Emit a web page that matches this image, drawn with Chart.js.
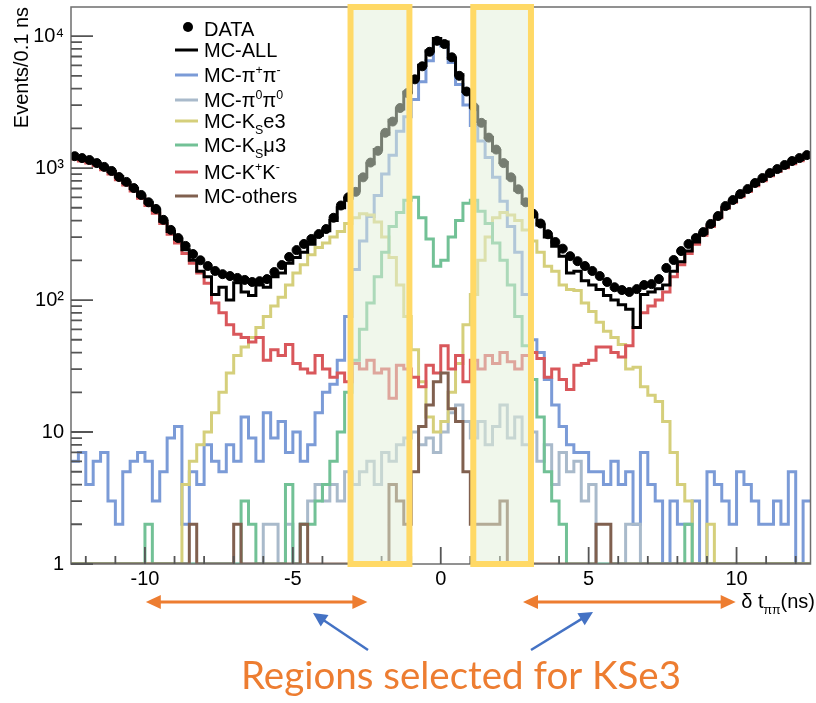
<!DOCTYPE html>
<html>
<head>
<meta charset="utf-8">
<title>delta t pipi</title>
<script src="https://cdn.jsdelivr.net/npm/chart.js@4.4.1/dist/chart.umd.min.js"></script>
<style>
html, body { margin: 0; padding: 0; background: #fff; }
#wrap { width: 816px; height: 703px; position: relative; }
</style>
</head>
<body>
<div id="wrap"><canvas id="dtChart"></canvas></div>
<script>
// binning of the histograms: 100 bins of 0.25 ns from -12.5 to 12.5
const xMin = -12.5;
const xMax = 12.5;
const binWidth = 0.25;

// DATA (dots)
const dataCounts = [
  1230, 1190, 1150, 1090, 1020, 950, 855, 785, 705, 625,
  550, 490, 405, 340, 295, 257, 223, 200, 181, 166,
  157, 152, 147, 142, 137, 139, 144, 163, 184, 212,
  239, 266, 290, 316, 345, 420, 520, 600, 660, 850,
  1100, 1350, 1850, 2250, 2850, 3700, 4700, 5900, 7600, 9200,
  8700, 6900, 5000, 3800, 2900, 2200, 1700, 1380, 1090, 850,
  690, 550, 450, 380, 315, 275, 245, 215, 197, 181,
  166, 152, 137, 125, 119, 115, 121, 130, 132, 144,
  175, 201, 235, 266, 295, 327, 377, 433, 515, 572,
  635, 693, 770, 839, 916, 982, 1054, 1130, 1190, 1253
];

// MC-ALL
const mcAll = [
  1220, 1170, 1150, 1080, 1010, 940, 860, 775, 700, 615,
  545, 480, 395, 330, 290, 240, 200, 165, 150, 110,
  125, 100, 135, 115, 108, 130, 125, 150, 160, 190,
  210, 230, 265, 310, 335, 400, 500, 590, 680, 860,
  1080, 1380, 1800, 2300, 2800, 3750, 4800, 6000, 7700, 9600,
  9000, 6800, 5100, 3800, 2900, 2250, 1700, 1350, 1100, 840,
  680, 540, 440, 370, 300, 255, 215, 160, 165, 140,
  130, 120, 108, 100, 92, 85, 62, 110, 115, 122,
  130, 165, 195, 235, 275, 320, 370, 425, 500, 560,
  620, 680, 750, 820, 890, 955, 1020, 1100, 1160, 1230
];

// MC-pi+pi-
const mcPipPim = [
  6, 7, 4, 6, 7, 3, 2, 5, 6, 7,
  6, 3, 5, 9, 11, 2, 5, 4, 8, 6,
  5, 8, 6, 13, 9, 6, 14, 9, 12, 7,
  10, 6, 8, 14, 20, 23, 35, 75, 170, 280,
  430, 620, 900, 1250, 1900, 2450, 3300, 4500, 6500, 8800,
  8400, 6300, 4300, 3000, 2100, 1600, 1200, 850, 560, 360,
  230, 110, 50, 40, 25, 16, 11, 8, 7, 7,
  5, 5, 4, 6, 4, 5, 2, 7, 4, 3,
  1, 3, 2, 2, 3, 1, 5, 4, 3, 2,
  5, 4, 3, 2, 2, 3, 2, 5, 1, 3
];

// MC-pi0pi0
const mcPi0Pi0 = [
  1, 1, 1, 1, 1, 1, 1, 1, 1, 1,
  1, 1, 1, 1, 1, 1, 1, 1, 1, 1,
  1, 1, 1, 1, 1, 1, 2, 2, 1, 2,
  1, 2, 3, 4, 3, 4, 3, 5, 4, 5,
  6, 4, 7, 6, 8, 9, 10, 8, 9, 7,
  10, 14, 16, 12, 9, 12, 8, 11, 16, 9,
  13, 8, 10, 6, 8, 4, 7, 5, 6, 3,
  4, 1, 1, 1, 1, 2, 2, 1, 1, 1,
  1, 1, 1, 1, 1, 1, 1, 1, 1, 1,
  1, 1, 1, 1, 1, 1, 1, 1, 1, 1
];

// MC-KSe3
const mcKse3 = [
  1, 1, 1, 1, 1, 1, 1, 1, 1, 1,
  1, 1, 1, 1, 1, 4, 6, 8, 10, 14,
  20, 28, 38, 44, 52, 62, 75, 90, 105, 130,
  160, 185, 220, 250, 270, 300, 330, 380, 420, 450,
  440, 390, 300, 210, 130, 75, 42, 24, 13, 10,
  12, 20, 33, 65, 110, 200, 300, 420, 460, 440,
  400, 340, 280, 230, 180, 165, 130, 120, 118, 95,
  82, 68, 58, 52, 46, 30, 31, 22, 19, 17,
  12, 7, 4, 3, 1, 1, 2, 1, 1, 1,
  1, 1, 1, 1, 1, 1, 1, 1, 1, 1
];

// MC-KSmu3
const mcKsmu3 = [
  1, 1, 1, 1, 1, 1, 1, 1, 1, 1,
  2, 1, 1, 1, 1, 1, 1, 1, 1, 1,
  1, 1, 1, 3, 2, 1, 1, 1, 1, 4,
  1, 2, 2, 3, 4, 6, 10, 20, 35, 60,
  95, 150, 230, 360, 460, 570, 600, 420, 290, 180,
  200, 300, 400, 540, 570, 470, 380, 270, 200, 130,
  75, 45, 25, 13, 5, 3, 2, 1, 1, 1,
  1, 1, 1, 1, 1, 1, 1, 1, 1, 1,
  1, 1, 1, 2, 1, 1, 1, 1, 1, 1,
  1, 1, 1, 1, 1, 1, 1, 1, 1, 1
];

// MC-K+K-
const mcKpKm = [
  1170, 1130, 1090, 1040, 970, 900, 815, 745, 670, 590,
  520, 455, 380, 315, 270, 225, 190, 160, 134, 95,
  80, 65, 55, 52, 48, 52, 35, 42, 38, 46,
  33, 30, 28, 38, 30, 26, 28, 24, 33, 30,
  35, 28, 30, 18, 32, 30, 26, 22, 32, 28,
  45, 30, 38, 24, 35, 30, 38, 33, 40, 34,
  30, 38, 40, 36, 26, 30, 25, 21, 32, 33,
  35, 44, 44, 40, 37, 45, 62, 80, 90, 100,
  115, 150, 185, 225, 265, 310, 360, 420, 495, 550,
  605, 665, 735, 800, 875, 940, 1005, 1080, 1135, 1200
];

// MC-others
const mcOthers = [
  1, 1, 1, 1, 1, 1, 1, 1, 1, 1,
  1, 1, 1, 1, 1, 1, 2, 1, 1, 1,
  1, 1, 2, 1, 1, 1, 1, 1, 1, 1,
  1, 2, 1, 1, 1, 1, 1, 1, 1, 1,
  1, 1, 1, 4, 3, 2, 5, 11, 16, 24,
  28, 15, 12, 5, 2, 2, 2, 2, 3, 1,
  1, 1, 1, 1, 1, 1, 1, 1, 1, 1,
  1, 2, 2, 1, 1, 1, 1, 1, 1, 1,
  1, 1, 1, 1, 1, 1, 1, 1, 1, 1,
  1, 1, 1, 1, 1, 1, 1, 1, 1, 1
];

// ticks: every ns on x (labels every 5), decades on y
const xTickValues = [-12, -11, -10, -9, -8, -7, -6, -5, -4, -3, -2, -1, 0,
  1, 2, 3, 4, 5, 6, 7, 8, 9, 10, 11, 12];
const decadeLabels = ['1', '10', '10²', '10³', '10⁴'];
const yMax = 16600;

// selected regions (ns) and arrows under the axis
const boxRanges = [[-3.05, -1.06], [1.1, 3.05]];
const arrowRanges = [[-9.97, -2.48], [2.78, 9.97]];

const FONT = "'Liberation Sans', Arial, sans-serif";

// histogram: one point per left bin edge, stepped
function histPoints(vals) {
  const pts = vals.map((v, i) => ({ x: xMin + i * binWidth, y: v }));
  pts.push({ x: xMin + vals.length * binWidth, y: vals[vals.length - 1] });
  return pts;
}
function centerPoints(vals) {
  return vals.map((v, i) => ({ x: xMin + (i + 0.5) * binWidth, y: v }));
}

function histSet(label, vals, color, order) {
  return {
    label: label,
    data: histPoints(vals),
    borderColor: color,
    backgroundColor: color,
    borderWidth: 3,
    stepped: true,
    pointRadius: 0,
    fill: false,
    order: order
  };
}

// log ticks 1..9 x 10^k
function logTicks() {
  const t = [];
  for (let k = 0; k < decadeLabels.length; k++) {
    for (let m = 1; m <= 9; m++) {
      const v = m * Math.pow(10, k);
      if (v <= yMax) t.push({ value: v, major: m === 1 });
    }
  }
  return t;
}

// text with super (1) / subscript (-1) parts
function richText(ctx, parts, x, y, size, align) {
  let w = 0;
  parts.forEach(p => {
    ctx.font = (p[1] ? size * 0.62 : size) + 'px ' + FONT;
    w += ctx.measureText(p[0]).width;
  });
  let cx = align === 'right' ? x - w : x;
  ctx.textAlign = 'left';
  ctx.textBaseline = 'alphabetic';
  parts.forEach(p => {
    const s = p[1] ? size * 0.62 : size;
    ctx.font = s + 'px ' + FONT;
    const dy = p[1] === 1 ? -size * 0.42 : (p[1] === -1 ? size * 0.3 : 0);
    ctx.fillText(p[0], cx, y + dy);
    cx += ctx.measureText(p[0]).width;
  });
}

function arrowHead(ctx, x, y, ang, len, half) {
  const c = Math.cos(ang), s = Math.sin(ang);
  ctx.beginPath();
  ctx.moveTo(x, y);
  ctx.lineTo(x - len * c + half * s, y - len * s - half * c);
  ctx.lineTo(x - len * c - half * s, y - len * s + half * c);
  ctx.closePath();
  ctx.fill();
}

const legendRows = [
  { ds: 0, y: 29, parts: [['DATA', 0]] },
  { ds: 1, y: 50, parts: [['MC-ALL', 0]] },
  { ds: 2, y: 75, parts: [['MC-π', 0], ['+', 1], ['π', 0], ['-', 1]] },
  { ds: 3, y: 100, parts: [['MC-π', 0], ['0', 1], ['π', 0], ['0', 1]] },
  { ds: 4, y: 121, parts: [['MC-K', 0], ['S', -1], ['e3', 0]] },
  { ds: 5, y: 145, parts: [['MC-K', 0], ['S', -1], ['μ3', 0]] },
  { ds: 6, y: 172, parts: [['MC-K', 0], ['+', 1], ['K', 0], ['-', 1]] },
  { ds: 7, y: 196, parts: [['MC-others', 0]] }
];

// frame, inner ticks and the shaded regions
const axisDeco = {
  id: 'axisDeco',
  afterDatasetsDraw(chart) {
    const { ctx, chartArea: a, scales } = chart;
    ctx.save();
    ctx.strokeStyle = '#6e6e6e';
    ctx.lineWidth = 1.5;
    ctx.strokeRect(a.left, a.top, a.right - a.left, a.bottom - a.top);

    ctx.strokeStyle = '#555';
    ctx.lineWidth = 1.8;
    ctx.beginPath();
    scales.x.ticks.forEach(t => {
      const px = scales.x.getPixelForValue(t.value);
      const len = t.value % 5 === 0 ? 17 : 8;
      ctx.moveTo(px, a.bottom);
      ctx.lineTo(px, a.bottom - len);
    });
    scales.y.ticks.forEach(t => {
      const py = scales.y.getPixelForValue(t.value);
      const len = t.major ? 22 : 11;
      ctx.moveTo(a.left, py);
      ctx.lineTo(a.left + len, py);
    });
    ctx.stroke();

    boxRanges.forEach(r => {
      const x0 = scales.x.getPixelForValue(r[0]);
      const x1 = scales.x.getPixelForValue(r[1]);
      ctx.fillStyle = 'rgba(226, 240, 217, 0.52)';
      ctx.fillRect(x0, a.top, x1 - x0, a.bottom - a.top);
      ctx.strokeStyle = '#ffd966';
      ctx.lineWidth = 6;
      ctx.strokeRect(x0, a.top, x1 - x0, a.bottom - a.top);
    });
    ctx.restore();
  },
  afterDraw(chart) {
    const { ctx, scales } = chart;
    ctx.save();

    // legend
    legendRows.forEach(row => {
      const ds = chart.data.datasets[row.ds];
      ctx.fillStyle = ds.borderColor;
      ctx.strokeStyle = ds.borderColor;
      if (row.ds === 0) {
        ctx.beginPath();
        ctx.arc(188, row.y - 2, 5, 0, Math.PI * 2);
        ctx.fill();
      } else {
        ctx.lineWidth = 3;
        ctx.beginPath();
        ctx.moveTo(175, row.y);
        ctx.lineTo(198, row.y);
        ctx.stroke();
      }
      ctx.fillStyle = '#000';
      richText(ctx, row.parts, 204, row.y + 7, 20, 'left');
    });

    // x axis title
    ctx.fillStyle = '#000';
    richText(ctx, [['δ t', 0], ['ππ', -1], ['(ns)', 0]], 815, 608, 20, 'right');

    // orange arrows for the selected regions
    ctx.strokeStyle = '#ed7d31';
    ctx.fillStyle = '#ed7d31';
    ctx.lineWidth = 3;
    const ay = 602;
    arrowRanges.forEach(r => {
      const x0 = scales.x.getPixelForValue(r[0]);
      const x1 = scales.x.getPixelForValue(r[1]);
      ctx.beginPath();
      ctx.moveTo(x0 + 10, ay);
      ctx.lineTo(x1 - 10, ay);
      ctx.stroke();
      arrowHead(ctx, x0, ay, Math.PI, 15, 7);
      arrowHead(ctx, x1, ay, 0, 15, 7);
    });

    // blue pointers
    ctx.strokeStyle = '#4472c4';
    ctx.fillStyle = '#4472c4';
    ctx.lineWidth = 2.5;
    [[368, 650, 313, 613], [531, 650, 593, 612]].forEach(p => {
      const ang = Math.atan2(p[3] - p[1], p[2] - p[0]);
      ctx.beginPath();
      ctx.moveTo(p[0], p[1]);
      ctx.lineTo(p[2] - 8 * Math.cos(ang), p[3] - 8 * Math.sin(ang));
      ctx.stroke();
      arrowHead(ctx, p[2], p[3], ang, 14, 7);
    });

    // caption
    const caption = 'Regions selected for KSe3';
    ctx.font = "40px Lato, 'Open Sans', sans-serif";
    const size = 40 * 440 / ctx.measureText(caption).width;
    ctx.font = size.toFixed(1) + "px Lato, 'Open Sans', sans-serif";
    ctx.fillStyle = '#ed7d31';
    ctx.textAlign = 'center';
    ctx.textBaseline = 'alphabetic';
    ctx.fillText(caption, 461, 689);
    ctx.restore();
  }
};

Chart.defaults.font.family = FONT;
Chart.defaults.color = '#000';

const dtChart = new Chart(document.getElementById('dtChart'), {
  type: 'line',
  data: {
    datasets: [
      {
        label: 'DATA',
        data: centerPoints(dataCounts),
        borderColor: '#000',
        backgroundColor: '#000',
        showLine: false,
        pointRadius: 4.5,
        pointHoverRadius: 4.5,
        order: 0
      },
      histSet('MC-ALL', mcAll, '#000000', 1),
      histSet('MC-π+π-', mcPipPim, '#7b9bd7', 7),
      histSet('MC-π0π0', mcPi0Pi0, '#a9bacb', 6),
      histSet('MC-KSe3', mcKse3, '#d5cf7b', 5),
      histSet('MC-KSμ3', mcKsmu3, '#72c196', 4),
      histSet('MC-K+K-', mcKpKm, '#d9575b', 3),
      histSet('MC-others', mcOthers, '#80604f', 2)
    ]
  },
  options: {
    responsive: true,
    maintainAspectRatio: false,
    animation: false,
    events: [],
    layout: { padding: { top: 7, right: 4, left: 0, bottom: 0 } },
    plugins: {
      legend: { display: false },
      tooltip: { enabled: false }
    },
    scales: {
      x: {
        type: 'linear',
        min: xMin,
        max: xMax,
        grid: { display: false, drawTicks: false },
        border: { display: false },
        ticks: {
          autoSkip: false,
          maxRotation: 0,
          padding: 3,
          font: { size: 20 },
          callback: v => (v % 5 === 0) ? String(v) : ''
        },
        afterBuildTicks: s => { s.ticks = xTickValues.map(v => ({ value: v })); },
        afterFit: s => { s.height = 139; s.paddingLeft = 0; s.paddingRight = 0; }
      },
      y: {
        type: 'logarithmic',
        min: 1,
        max: yMax,
        grid: { display: false, drawTicks: false },
        border: { display: false },
        ticks: {
          autoSkip: false,
          padding: 7,
          font: { size: 20 },
          callback: v => {
            const e = Math.log10(v);
            if (Math.abs(e - Math.round(e)) > 1e-9) return '';
            return decadeLabels[Math.round(e)] || '';
          }
        },
        afterBuildTicks: s => { s.ticks = logTicks(); },
        title: {
          display: true,
          text: 'Events/0.1 ns',
          align: 'end',
          font: { size: 20 },
          padding: { top: 10, bottom: 0 }
        },
        afterFit: s => { s.width = 71; s.paddingTop = 0; s.paddingBottom = 0; }
      }
    }
  },
  plugins: [axisDeco]
});
</script>
</body>
</html>
